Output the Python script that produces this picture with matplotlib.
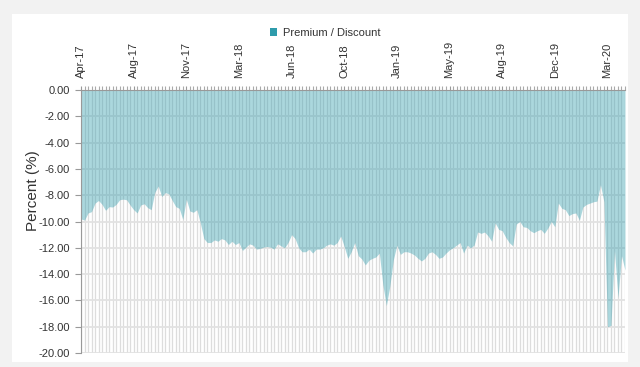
import matplotlib
matplotlib.use("Agg")
import matplotlib.pyplot as plt
from matplotlib.patches import Patch, Rectangle
import numpy as np

plt.rcParams['font.family'] = ['Liberation Sans', 'DejaVu Sans']

# Weekly premium/discount values (%)
premium_discount = [
    -9.8, -9.9, -9.35, -9.25, -8.6, -8.4, -8.7, -9.15, -8.87, -8.9,
    -8.7, -8.35, -8.3, -8.35, -8.75, -9.1, -9.35, -8.75, -8.65, -8.95,
    -9.1, -7.8, -7.3, -8.1, -7.8, -7.9, -8.4, -8.87, -9.0, -9.85,
    -8.3, -9.2, -9.3, -9.1, -10.1, -11.3, -11.6, -11.6, -11.4, -11.5,
    -11.3, -11.4, -11.75, -11.5, -11.75, -11.6, -12.2, -11.95, -11.7, -11.8,
    -12.1, -12.05, -11.95, -11.9, -11.95, -12.1, -11.7, -11.85, -12.0, -11.6,
    -11.0, -11.3, -12.0, -12.3, -12.3, -12.1, -12.4, -12.1, -12.1, -12.0,
    -11.8, -11.7, -11.8, -11.6, -11.1, -11.9, -12.8, -12.3, -11.6, -12.6,
    -12.85, -13.3, -12.95, -12.8, -12.7, -12.4, -14.8, -16.4, -14.9, -12.9,
    -11.8, -12.5, -12.3, -12.3, -12.4, -12.55, -12.8, -13.0, -12.8, -12.4,
    -12.3, -12.5, -12.8, -12.7, -12.4, -12.15, -12.0, -11.8, -11.6, -12.4,
    -11.8, -12.0, -11.8, -10.8, -10.9, -10.8, -11.1, -11.5, -10.1, -10.6,
    -10.7, -11.2, -11.6, -11.85, -10.2, -10.0, -10.4, -10.45, -10.7, -10.85,
    -10.7, -10.6, -10.9, -10.5, -10.0, -10.4, -8.6, -9.0, -9.1, -9.55,
    -9.4, -9.35, -9.9, -8.9, -8.7, -8.6, -8.5, -8.45, -7.2, -8.5,
    -18.0, -17.9, -12.2, -15.8, -12.6, -13.7,
]

tick_labels = ["Apr-17", "Aug-17", "Nov-17", "Mar-18", "Jun-18", "Oct-18",
               "Jan-19", "May-19", "Aug-19", "Dec-19", "Mar-20"]
tick_step = 15
y_ticks = [0, -2, -4, -6, -8, -10, -12, -14, -16, -18, -20]

W, H = 640, 367
fig = plt.figure(figsize=(W / 100, H / 100), dpi=100)
fig.patch.set_facecolor('#f2f2f2')
card = Rectangle((12 / W, (H - 362) / H), (628 - 12) / W, (362 - 14) / H,
                 transform=fig.transFigure, facecolor='white',
                 edgecolor='none', zorder=-10)
fig.patches.append(card)

ax = fig.add_axes([81 / W, (H - 353) / H, 544 / W, 263 / H])
ax.set_facecolor('white')

x = np.arange(len(premium_discount))
ax.fill_between(x, premium_discount, 0, color='#2e9bab', alpha=0.4,
                linewidth=0, zorder=2)

ax.set_xlim(0, len(premium_discount) - 1)
ax.set_ylim(-20, 0)

ax.xaxis.tick_top()
ax.set_xticks(np.arange(0, len(premium_discount), tick_step)[:len(tick_labels)])
ax.set_xticklabels(tick_labels, rotation=90, fontsize=8, color='#333333')
ax.set_xticks(x, minor=True)
ax.tick_params(axis='x', which='major', length=3, color='#999999', pad=6,
               top=True, bottom=False)
ax.tick_params(axis='x', which='minor', length=3, color='#aaaaaa', width=0.8,
               top=True, bottom=False)

ax.set_yticks(y_ticks)
ax.set_yticklabels([f"{v:.2f}" for v in y_ticks], fontsize=8, color='#333333')
ax.tick_params(axis='y', length=4, color='#999999', pad=4)

ax.set_axisbelow(True)
ax.grid(axis='x', which='minor', color='#dddddd', linewidth=0.9)
ax.grid(axis='x', which='major', color='#dddddd', linewidth=0.9)
ax.grid(axis='y', which='major', color='#e2e2e2', linewidth=1.3)

for s in ['right', 'bottom']:
    ax.spines[s].set_visible(False)
ax.spines['left'].set_color('#999999')
ax.spines['top'].set_color('#999999')

ax.set_ylabel("Percent (%)", fontsize=11, color='#333333')
ax.yaxis.set_label_coords((40 - 81) / 544, (353 - 191) / 263)

fig.legend(handles=[Patch(facecolor='#2e9bab', edgecolor='none')],
           labels=['Premium / Discount'], loc='center',
           bbox_to_anchor=(325 / W, 1 - 33 / H), frameon=False,
           handlelength=0.7, handleheight=0.7, handletextpad=0.5,
           fontsize=8, labelcolor='#333333')

fig.savefig("out.png", dpi=100, facecolor=fig.get_facecolor())
